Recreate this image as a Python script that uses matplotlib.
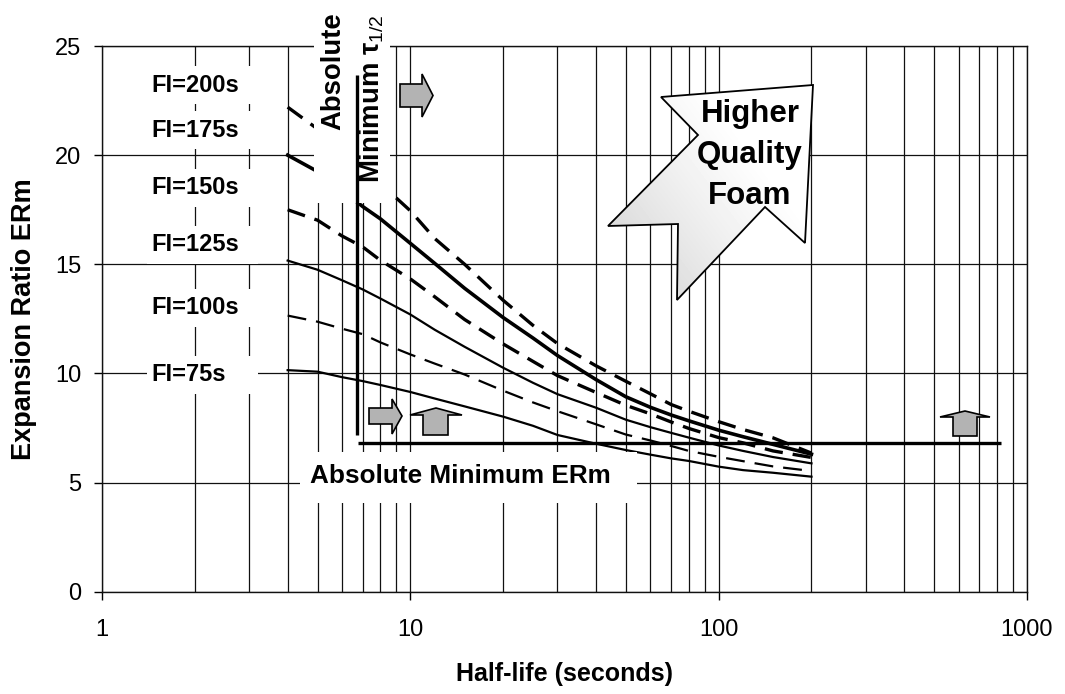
import numpy as np
import matplotlib
matplotlib.use("Agg")
import matplotlib.pyplot as plt
from matplotlib.patches import Polygon, Rectangle
from matplotlib.transforms import Affine2D
from matplotlib.ticker import LogLocator, NullFormatter

plt.rcParams['font.family'] = ['Liberation Sans', 'DejaVu Sans']
plt.rcParams['mathtext.fontset'] = 'custom'
plt.rcParams['mathtext.rm'] = 'Liberation Sans'
plt.rcParams['mathtext.it'] = 'Liberation Sans:italic'
plt.rcParams['mathtext.bf'] = 'Liberation Sans:bold'

# data
half_life = [4, 5, 6, 7, 8, 10, 12, 15, 20, 25, 30, 40, 50, 60, 70, 80, 100, 120, 150, 200]
er_fi75 = [10.15, 10.08, 9.83, 9.65, 9.47, 9.15, 8.85, 8.49, 8.02, 7.6, 7.18, 6.78,
           6.49, 6.28, 6.11, 5.99, 5.73, 5.57, 5.45, 5.27]
er_fi100 = [12.65, 12.37, 12.05, 11.8, 11.42, 10.87, 10.45, 9.95, 9.21, 8.67, 8.27, 7.67,
            7.2, 6.93, 6.68, 6.45, 6.18, 5.98, 5.74, 5.53]
er_fi125 = [15.17, 14.75, 14.27, 13.85, 13.43, 12.7, 12.0, 11.22, 10.26, 9.57, 9.05, 8.43,
            7.88, 7.54, 7.28, 7.06, 6.7, 6.45, 6.17, 5.88]
er_fi150 = [17.5, 17.02, 16.3, 15.8, 15.18, 14.33, 13.51, 12.47, 11.35, 10.55, 9.9, 9.13,
            8.54, 8.15, 7.78, 7.48, 7.06, 6.82, 6.45, 6.15]
er_fi175 = [20.0, 19.25, 18.4, 17.65, 17.08, 15.96, 15.04, 13.9, 12.56, 11.62, 10.82, 9.72,
            8.93, 8.45, 8.1, 7.83, 7.4, 7.1, 6.75, 6.3]
er_fi200 = [22.2, 21.2, 20.3, 19.45, 18.7, 17.45, 16.18, 15.0, 13.35, 12.2, 11.37, 10.35,
            9.64, 9.07, 8.58, 8.27, 7.79, 7.43, 7.05, 6.35]

fi_labels = ['FI=200s', 'FI=175s', 'FI=150s', 'FI=125s', 'FI=100s', 'FI=75s']
fi_label_y = [23.2, 21.15, 18.5, 15.9, 13.0, 9.93]

min_half_life = 6.72      # absolute minimum tau 1/2
min_half_life_span = (7.17, 23.67)
min_erm = 6.8             # absolute minimum ERm
min_erm_span = (6.76, 824)

fig = plt.figure(figsize=(10.65, 6.94), dpi=100)
ax = fig.add_axes([0.0958, 0.1474, 0.8685, 0.7863])
# reference pixel coords (x right, y down) -> figure
pix = Affine2D().scale(1 / 1065, -1 / 694).translate(0, 1) + fig.transFigure

ax.set_xscale('log')
ax.set_xlim(1, 1000)
ax.set_ylim(0, 25)
ax.set_xticks([1, 10, 100, 1000])
ax.set_xticklabels(['1', '10', '100', '1000'])
ax.xaxis.set_minor_locator(LogLocator(base=10, subs=range(2, 10)))
ax.xaxis.set_minor_formatter(NullFormatter())
ax.set_yticks([0, 5, 10, 15, 20, 25])
ax.tick_params(axis='both', which='major', direction='out', length=6, width=1, labelsize=17)
ax.tick_params(axis='x', which='major', pad=14)
ax.tick_params(axis='y', which='major', pad=9)
ax.tick_params(which='minor', length=0)
ax.set_axisbelow(True)
ax.grid(True, which='both', axis='x', color='#111111', lw=0.9)
ax.grid(True, which='major', axis='y', color='#111111', lw=0.9)
for s in ax.spines.values():
    s.set_linewidth(1)
    s.set_color('#111111')

ax.set_xlabel('Half-life (seconds)', fontsize=18, fontweight='bold')
ax.set_ylabel('Expansion Ratio ERm', fontsize=19.5, fontweight='bold')
ax.xaxis.set_label_coords(0.5, -0.128)
ax.yaxis.set_label_coords(-0.07, 0.5)

# curves
ax.plot(half_life, er_fi75, color='black', lw=1.6, zorder=2)
ax.plot(half_life, er_fi100, color='black', lw=1.6, ls=(0, (8.5, 4.5)), zorder=2)
ax.plot(half_life, er_fi125, color='black', lw=1.6, zorder=2)
ax.plot(half_life, er_fi150, color='black', lw=2.4, ls=(0, (5.5, 3.0)), zorder=2)
ax.plot(half_life, er_fi175, color='black', lw=2.6, zorder=2)
ax.plot(half_life, er_fi200, color='black', lw=2.4, ls=(0, (5.5, 3.0)), zorder=2)

# white label boxes
def white_box(x0, y0, x1, y1):
    ax.add_patch(Rectangle((x0, y0), x1 - x0, y1 - y0, transform=pix, fc='white',
                           ec='none', zorder=3, clip_on=False))

white_box(314, 40, 390, 203)
white_box(300, 452, 637, 503)
for lab, yv in zip(fi_labels, fi_label_y):
    ax.text(1.45, yv, lab, fontsize=17, fontweight='bold', ha='left', va='center', zorder=5)
    ypx = 591.7 - 21.83 * yv
    white_box(147, ypx - 19, 258, ypx + 19)

# absolute minimum guide lines
ax.vlines(min_half_life, *min_half_life_span, color='black', lw=2.4, zorder=4)
ax.hlines(min_erm, *min_erm_span, color='black', lw=2.4, zorder=4)

ax.text(14.55, 5.3, 'Absolute Minimum ERm', fontsize=18.8, fontweight='bold',
        ha='center', va='center', zorder=5)
ax.text(333, 12, 'Absolute', transform=pix, rotation=90, fontsize=19.8, fontweight='bold',
        ha='center', va='top', zorder=5)
ax.text(372, 14, 'Minimum τ$_{1/2}$', transform=pix, rotation=90, fontsize=19.8,
        fontweight='bold', ha='center', va='top', zorder=5)

# big "Higher Quality Foam" arrow
big_pts = [(661, 97), (698, 135), (608, 226), (678, 224), (677, 300),
           (765, 207), (805, 243), (813, 85)]
big = Polygon(big_pts, closed=True, transform=pix, fc='none', ec='black', lw=1.3,
              zorder=5, clip_on=False)
ax.add_patch(big)
gx, gy = np.meshgrid(np.linspace(0, 1, 60), np.linspace(0, 1, 60))
shade = 0.74 + 0.26 * np.clip((1.3 * gx + (1 - gy)) / 1.6, 0, 1) ** 0.6
im = ax.imshow(shade, cmap='gray', vmin=0, vmax=1, extent=[600, 820, 305, 80],
               origin='upper', aspect='auto', interpolation='bilinear', zorder=4)
im.set_transform(pix)
im.set_clip_path(Polygon(big_pts, closed=True, transform=pix))
ax.set_xlim(1, 1000)
ax.set_ylim(0, 25)
ax.text(750, 155, 'Higher\nQuality\nFoam', transform=pix, fontsize=22.5, fontweight='bold',
        ha='center', va='center', linespacing=1.48, zorder=6)

# small block arrows
small_arrows = [
    [(400, 84), (422, 84), (422, 74), (433, 95.5), (422, 117), (422, 107), (400, 107)],
    [(369, 408), (392, 408), (392, 399), (402, 416), (392, 434), (392, 424), (369, 424)],
    [(423, 435), (423, 415), (410, 415), (436, 408), (462, 415), (448, 415), (448, 435)],
    [(953, 436), (953, 417), (940, 417), (965, 411), (990, 417), (977, 417), (977, 436)],
]
for pts in small_arrows:
    ax.add_patch(Polygon(pts, closed=True, transform=pix, fc='#b3b3b3', ec='black',
                         lw=1.2, zorder=5, clip_on=False))

fig.savefig('out.png', dpi=100, facecolor='white')
